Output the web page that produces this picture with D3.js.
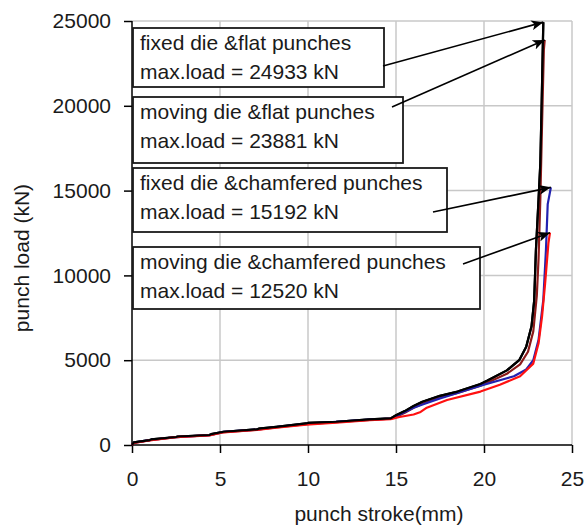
<!DOCTYPE html>
<meta charset="utf-8">
<style>
body { margin: 0; background: #fff; }
svg { font-family: Arial, "Liberation Sans", sans-serif; }
.axis text { font-size: 21px; fill: #1a1a1a; }
.axis path, .axis line { stroke: #000; stroke-width: 1.5px; }
.grid line { stroke: #c8c8c8; stroke-width: 1.5px; }
.curve { fill: none; stroke-width: 2.2px; stroke-linejoin: round; }
.note rect { fill: #fff; stroke: #1a1a1a; stroke-width: 1.8px; }
.note text { font-size: 21px; fill: #1a1a1a; }
.arrow { stroke: #000; stroke-width: 1.6px; }
</style>
<svg width="586" height="526"></svg>
<script src="https://cdn.jsdelivr.net/npm/d3@7"></script>
<script>

// stroke (mm) / load (kN)
var fixedFlat = [[0,0],[0.1,150],[1.0,290],[1.1,330],[2.5,470],[2.6,500],[4.4,590],[4.5,640],[5.2,780],[7.1,920],[7.2,960],[8.2,1070],[9.9,1270],[10.0,1300],[11.6,1370],[13.5,1510],[14.7,1570],[15.0,1750],[15.5,2000],[16.0,2300],[16.5,2550],[17.5,2900],[18.5,3150],[19.8,3600],[20.2,3800],[21.3,4400],[22.0,5000],[22.4,5800],[22.7,7000],[22.85,8500],[22.95,11500],[23.1,14500],[23.2,16600],[23.28,20300],[23.37,24933]];
var movingFlat = [[0,0],[0.1,130],[1.0,280],[2.5,465],[4.4,580],[5.2,760],[7.1,900],[8.2,1040],[9.9,1230],[11.6,1340],[13.5,1480],[14.7,1550],[15.0,1650],[15.5,1900],[16.0,2200],[16.55,2450],[17.5,2800],[18.45,3050],[19.8,3500],[21.3,4200],[22.05,4750],[22.5,5500],[22.8,6700],[23.0,8800],[23.1,11000],[23.2,14500],[23.3,19000],[23.4,23300],[23.45,23881]];
var fixedCham = [[0,0],[0.1,140],[1.0,285],[2.5,470],[4.4,585],[5.2,770],[7.1,910],[8.2,1060],[9.9,1250],[11.6,1360],[13.5,1500],[14.7,1560],[15.0,1700],[15.5,1950],[16.0,2200],[16.55,2400],[17.5,2750],[18.45,3050],[19.8,3500],[21.0,3850],[21.7,4050],[22.4,4450],[22.8,5000],[23.1,6200],[23.37,8550],[23.52,11500],[23.62,14200],[23.8,15192]];
var movingCham = [[0,0],[0.1,120],[1.0,270],[2.5,460],[4.4,570],[5.2,750],[7.1,890],[8.2,1020],[9.9,1200],[11.6,1320],[13.5,1460],[14.7,1520],[15.2,1650],[16.0,1800],[16.4,1950],[16.75,2200],[17.9,2650],[19.8,3150],[20.9,3550],[22.05,4050],[22.8,4800],[23.1,6000],[23.3,7600],[23.47,9500],[23.66,11900],[23.75,12520]];

var seriesNames = ["fixed die &flat punches", "moving die &flat punches", "fixed die &chamfered punches", "moving die &chamfered punches"];
var seriesData = [fixedFlat, movingFlat, fixedCham, movingCham];
var maxLoads = [24933, 23881, 15192, 12520];
var seriesColors = ["#000000", "#8b1a1a", "#2222b0", "#ff1010"];
var xTicks = [0, 5, 10, 15, 20, 25];
var yTicks = [0, 5000, 10000, 15000, 20000, 25000];

var svg = d3.select("svg"),
    margin = {top: 21, right: 14, bottom: 81, left: 132},
    width = +svg.attr("width") - margin.left - margin.right,
    height = +svg.attr("height") - margin.top - margin.bottom;

var x = d3.scaleLinear().domain([0, 25]).range([0, width]),
    y = d3.scaleLinear().domain([0, 25000]).range([height, 0]);

var g = svg.append("g")
    .attr("transform", "translate(" + margin.left + "," + margin.top + ")");

// grid
g.append("g").attr("class", "grid")
  .selectAll("line.v").data(xTicks.slice(1)).enter().append("line")
    .attr("x1", function(d) { return x(d); }).attr("x2", function(d) { return x(d); })
    .attr("y1", 0).attr("y2", height);
g.select(".grid")
  .selectAll("line.h").data(yTicks.slice(1)).enter().append("line")
    .attr("x1", 0).attr("x2", width)
    .attr("y1", function(d) { return y(d); }).attr("y2", function(d) { return y(d); });

g.append("g")
    .attr("class", "axis")
    .attr("transform", "translate(0," + height + ")")
    .call(d3.axisBottom(x).tickValues(xTicks).tickSize(8).tickPadding(18).tickSizeOuter(0))
    .select(".domain").attr("d", "M0,0H" + width);

g.append("g")
    .attr("class", "axis")
    .call(d3.axisLeft(y).tickValues(yTicks).tickSize(8).tickPadding(13).tickSizeOuter(0).tickFormat(d3.format("d")))
    .select(".domain").attr("d", "M0," + height + "V0");

svg.selectAll(".axis .tick text").attr("font-family", null).attr("font-size", null);

// curves
var line = d3.line()
    .x(function(d) { return x(d[0]); })
    .y(function(d) { return y(d[1]); });

g.selectAll(".curve")
    .data(seriesData)
  .enter().append("path")
    .attr("class", "curve")
    .attr("stroke", function(d, i) { return seriesColors[i]; })
    .attr("d", line);

// redraw black on top like the original
g.append("path").attr("class", "curve").attr("stroke", "#000").attr("d", line(fixedFlat));

// annotations
svg.append("defs").append("marker")
    .attr("id", "head")
    .attr("viewBox", "0 0 12 10")
    .attr("refX", 12).attr("refY", 5)
    .attr("markerWidth", 12).attr("markerHeight", 10)
    .attr("markerUnits", "userSpaceOnUse")
    .attr("orient", "auto")
  .append("path").attr("d", "M0,0L12,5L0,10L3,5Z").attr("fill", "#000");

var boxes = [
  {x: 133, y: 28, w: 251, h: 59, from: [383, 66]},
  {x: 133, y: 97, w: 270, h: 66, from: [392, 107]},
  {x: 133, y: 168, w: 314, h: 64, from: [433, 212]},
  {x: 133, y: 247, w: 347, h: 62, from: [463, 264]}
];

var notes = svg.selectAll(".note")
    .data(boxes)
  .enter().append("g")
    .attr("class", "note");

notes.append("rect")
    .attr("x", function(d) { return d.x; })
    .attr("y", function(d) { return d.y; })
    .attr("width", function(d) { return d.w; })
    .attr("height", function(d) { return d.h; });

notes.append("text")
    .attr("x", function(d) { return d.x + 7; })
    .attr("y", function(d) { return d.y + 22; })
    .text(function(d, i) { return seriesNames[i]; });

notes.append("text")
    .attr("x", function(d) { return d.x + 7; })
    .attr("y", function(d) { return d.y + 51; })
    .text(function(d, i) { return "max.load = " + maxLoads[i] + " kN"; });

svg.selectAll(".arrow")
    .data(boxes)
  .enter().append("line")
    .attr("class", "arrow")
    .attr("x1", function(d) { return d.from[0]; })
    .attr("y1", function(d) { return d.from[1]; })
    .attr("x2", function(d, i) { var p = seriesData[i][seriesData[i].length - 1]; return margin.left + x(p[0]); })
    .attr("y2", function(d, i) { return margin.top + y(maxLoads[i]); })
    .attr("marker-end", "url(#head)");

// axis titles
svg.append("text")
    .attr("x", 379).attr("y", 521)
    .attr("text-anchor", "middle")
    .attr("font-size", 21).attr("fill", "#1a1a1a")
    .text("punch stroke(mm)");

svg.append("text")
    .attr("transform", "translate(29,258)rotate(-90)")
    .attr("text-anchor", "middle")
    .attr("font-size", 21).attr("fill", "#1a1a1a")
    .text("punch load (kN)");

</script>
